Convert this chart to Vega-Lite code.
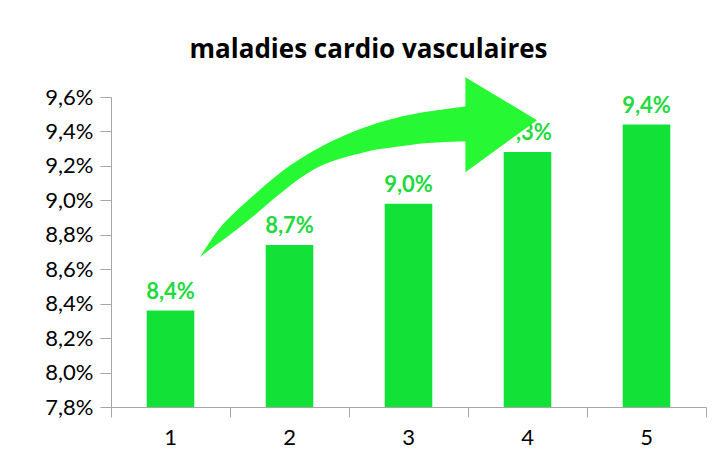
{
  "$schema": "https://vega.github.io/schema/vega-lite/v6.json",
  "width": 595,
  "height": 310,
  "autosize": {"type": "none"},
  "padding": {"left": 111, "top": 97, "right": 7, "bottom": 48},
  "title": {
    "text": "maladies cardio vasculaires",
    "font": "Open Sans",
    "fontSize": 26,
    "fontWeight": "bold",
    "color": "#000000",
    "anchor": "middle",
    "baseline": "alphabetic",
    "offset": 29,
    "dy": 36,
    "dx": -40
  },
  "datasets": {
    "bars": [
      {"n": "1", "v": 0.0836},
      {"n": "2", "v": 0.0874},
      {"n": "3", "v": 0.0898},
      {"n": "4", "v": 0.0928},
      {"n": "5", "v": 0.0944}
    ],
    "arrow": [
      {"part": "body", "ax": 1.248, "hi": 0.08671, "lo": 0.08671},
      {"part": "body", "ax": 1.332, "hi": 0.08762, "lo": 0.08716},
      {"part": "body", "ax": 1.441, "hi": 0.08867, "lo": 0.08768},
      {"part": "body", "ax": 1.584, "hi": 0.08960, "lo": 0.08844},
      {"part": "body", "ax": 1.727, "hi": 0.09047, "lo": 0.08925},
      {"part": "body", "ax": 1.861, "hi": 0.09128, "lo": 0.09006},
      {"part": "body", "ax": 2.004, "hi": 0.09204, "lo": 0.09087},
      {"part": "body", "ax": 2.147, "hi": 0.09267, "lo": 0.09157},
      {"part": "body", "ax": 2.282, "hi": 0.09320, "lo": 0.09209},
      {"part": "body", "ax": 2.424, "hi": 0.09366, "lo": 0.09244},
      {"part": "body", "ax": 2.567, "hi": 0.09407, "lo": 0.09267},
      {"part": "body", "ax": 2.676, "hi": 0.09436, "lo": 0.09291},
      {"part": "body", "ax": 2.870, "hi": 0.09477, "lo": 0.09308},
      {"part": "body", "ax": 3.155, "hi": 0.09517, "lo": 0.09337},
      {"part": "body", "ax": 3.485, "hi": 0.09546, "lo": 0.09343},
      {"part": "head", "ax": 3.478, "hi": 0.09715, "lo": 0.09163},
      {"part": "head", "ax": 4.080, "hi": 0.09465, "lo": 0.09465}
    ]
  },
  "layer": [
    {
      "data": {"name": "bars"},
      "mark": {"type": "bar", "color": "#12E138", "clip": true},
      "encoding": {
        "x": {
          "field": "n", "type": "ordinal",
          "scale": {"paddingInner": 0.6, "paddingOuter": 0.3},
          "axis": {
            "orient": "bottom", "title": null, "ticks": false, "domain": false,
            "labelAngle": 0, "labelFont": "Lato", "labelFontSize": 22,
            "labelColor": "#000000", "labelPadding": 20, "grid": false
          }
        },
        "y": {
          "field": "v", "type": "quantitative",
          "scale": {"domain": [0.078, 0.096], "nice": false, "zero": false},
          "axis": {
            "title": null, "values": [0.078, 0.080, 0.082, 0.084, 0.086, 0.088, 0.090, 0.092, 0.094, 0.096],
            "format": ".1%", "grid": false, "labelFont": "Lato", "labelFontSize": 22,
            "labelColor": "#000000", "tickSize": 11, "labelPadding": 7, "labelOverlap": false,
            "labelBound": false,
            "tickColor": "#A6A6A6", "domainColor": "#A6A6A6"
          }
        }
      }
    },
    {
      "data": {"name": "bars"},
      "mark": {"type": "text", "font": "Lato", "fontSize": 22, "fontWeight": "bold", "color": "#1FDA3E", "baseline": "alphabetic", "dy": -12},
      "encoding": {
        "x": {"field": "n", "type": "ordinal", "scale": {"paddingInner": 0.6, "paddingOuter": 0.3}, "axis": null},
        "y": {
          "field": "v", "type": "quantitative",
          "axis": {
            "title": null, "values": [0.078, 0.080, 0.082, 0.084, 0.086, 0.088, 0.090, 0.092, 0.094, 0.096],
            "format": ".1%", "grid": false, "labelFont": "Lato", "labelFontSize": 22,
            "labelColor": "#000000", "tickSize": 11, "labelPadding": 7, "labelOverlap": false,
            "labelBound": false,
            "tickColor": "#A6A6A6", "domainColor": "#A6A6A6"
          }
        },
        "text": {"field": "v", "type": "quantitative", "format": ".1%"}
      }
    },
    {
      "data": {"name": "arrow"},
      "mark": {"type": "area", "color": "#27F834", "opacity": 1, "interpolate": "basis"},
      "encoding": {
        "x": {
          "field": "ax", "type": "quantitative",
          "scale": {"domain": [0.5, 5.5], "nice": false, "zero": false},
          "axis": {
            "orient": "bottom", "title": null, "values": [0.5, 1.5, 2.5, 3.5, 4.5, 5.5],
            "labels": false, "tickSize": 10, "grid": false,
            "tickColor": "#A6A6A6", "domainColor": "#A6A6A6"
          }
        },
        "y": {
          "field": "hi", "type": "quantitative", "stack": null,
          "axis": {
            "title": null, "values": [0.078, 0.080, 0.082, 0.084, 0.086, 0.088, 0.090, 0.092, 0.094, 0.096],
            "format": ".1%", "grid": false, "labelFont": "Lato", "labelFontSize": 22,
            "labelColor": "#000000", "tickSize": 11, "labelPadding": 7, "labelOverlap": false,
            "labelBound": false,
            "tickColor": "#A6A6A6", "domainColor": "#A6A6A6"
          }
        },
        "y2": {"field": "lo"},
        "detail": {"field": "part", "type": "nominal"}
      }
    }
  ],
  "resolve": {"scale": {"x": "independent"}, "axis": {"x": "independent"}},
  "config": {
    "view": {"stroke": null},
    "background": "#ffffff",
    "locale": {"number": {"decimal": ",", "thousands": " ", "grouping": [3], "currency": ["", " €"]}}
  }
}
